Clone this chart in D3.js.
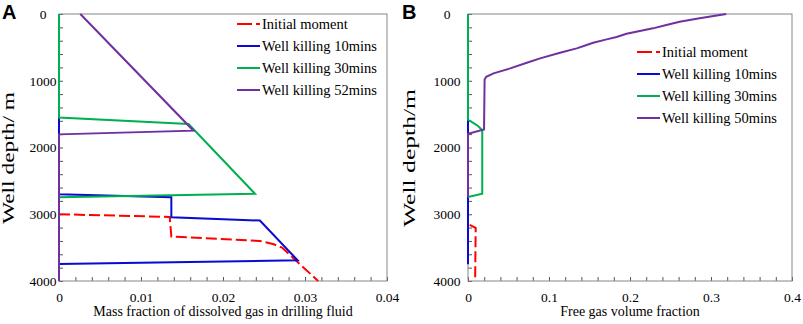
<!DOCTYPE html>
<html lang="en">
<head>
<meta charset="UTF-8">
<title>Dissolved and free gas along well depth</title>
<script src="https://d3js.org/d3.v7.min.js"></script>
<style>
    body{ margin:0; background:#fff; }
    svg{ display:block; }
    .axis path{ display:none; }
    .axis line{ stroke:#555; }
</style>
</head>
<body>
<script>
    // tick labels
    const depthTicks = [0, 1000, 2000, 3000, 4000]
    const massTicks = [0, 0.01, 0.02, 0.03, 0.04]
    const freeTicks = [0, 0.1, 0.2, 0.3, 0.4]
    const seriesNamesA = ["Initial moment", "Well killing 10mins", "Well killing 30mins", "Well killing 52mins"]
    const seriesNamesB = ["Initial moment", "Well killing 10mins", "Well killing 30mins", "Well killing 50mins"]

    // panel A: [mass fraction, depth m]
    const aInitial = [[0,3000],[0.0135,3040],[0.0137,3335],[0.0245,3400],[0.0262,3450],[0.0272,3500],[0.0316,4000]]
    const a10 = [[0,0],[0,2700],[0.0137,2745],[0.0137,3045],[0.0245,3095],[0.0291,3690],[0,3745],[0,4000]]
    const a30 = [[0,0],[0,1550],[0.0158,1648],[0.0239,2692],[0,2745],[0,4000]]
    const a52 = [[0.0026,0],[0.0164,1748],[0,1803],[0,4000]]

    // panel B: [free gas fraction, depth m]
    const bInitial = [[0.002,3160],[0.0095,3205],[0.0088,4000]]
    const b10 = [[0,0],[0,3750]]
    const b30 = [[0,0],[0,1585],[0.0065,1631],[0.0127,1681],[0.0176,1741],[0.0176,2692],[0,2742]]
    const b50 = [[0.3188,0],[0.2859,65],[0.2613,115],[0.2449,165],[0.2284,215],[0.2121,255],[0.1957,295],
                 [0.1834,345],[0.1711,380],[0.1546,430],[0.1465,465],[0.1342,515],[0.1136,580],[0.0890,665],
                 [0.0726,730],[0.0521,815],[0.0315,890],[0.0225,940],[0.0205,980],[0.0198,1731],[0,1795],[0,2742]]

    const colors = ["#ff0000", "#0a0ad2", "#00b050", "#7030a0"]
    const serif = "Liberation Serif"

    const width = 803, height = 324
    const svg = d3.select("body").append("svg")
        .attr("width", width).attr("height", height)

    function panel(opt) {
        const x = d3.scaleLinear().domain([0, opt.xMax]).range([opt.left, opt.right])
        const y = d3.scaleLinear().domain([0, 4000]).range([14, 281])
        const g = svg.append("g")

        // minor ticks inside the frame
        g.append("g").attr("class", "axis")
            .attr("transform", `translate(${opt.left},0)`)
            .call(d3.axisLeft(y).tickValues(d3.range(0, 4001, 200)).tickSize(-4).tickFormat(""))
        g.append("g").attr("class", "axis")
            .attr("transform", "translate(0,281)")
            .call(d3.axisBottom(x).tickValues(d3.range(0, opt.xMax + 1e-9, opt.xMax / 20)).tickSize(-4).tickFormat(""))

        // tick labels
        const yl = g.append("g").attr("class", "axis")
            .attr("transform", `translate(${opt.left},0)`)
            .call(d3.axisLeft(y).tickValues(depthTicks).tickSize(0).tickFormat(d3.format("d")))
        yl.selectAll("text").attr("text-anchor", "middle").attr("x", opt.yLabX).attr("font-size", 13.5)
        const xl = g.append("g").attr("class", "axis")
            .attr("transform", "translate(0,281)")
            .call(d3.axisBottom(x).tickValues(opt.ticks).tickSize(0).tickPadding(11).tickFormat(d => d === 0 ? "0" : d))
        xl.selectAll("text").attr("font-size", 13.5)

        // frame
        g.append("rect").attr("x", opt.left).attr("y", 14)
            .attr("width", opt.right - opt.left).attr("height", 267)
            .attr("fill", "none").attr("stroke", "#868686")

        const line = d3.line().x(d => x(d[0])).y(d => y(d[1]))
        opt.series.forEach((s, i) => {
            g.append("path").datum(s)
                .attr("d", line)
                .attr("fill", "none")
                .attr("stroke", colors[i])
                .attr("stroke-width", 2)
                .attr("stroke-dasharray", i === 0 ? "11,4" : null)
        })

        // legend
        opt.names.forEach((n, i) => {
            const ly = opt.legY + i * 22
            g.append("line").attr("x1", opt.legX).attr("x2", opt.legX + 23)
                .attr("y1", ly).attr("y2", ly)
                .attr("stroke", colors[i]).attr("stroke-width", 2)
                .attr("stroke-dasharray", i === 0 ? "15,4" : null)
            g.append("text").attr("x", opt.legX + 25).attr("y", ly + 5)
                .attr("font-size", 14.5).text(n)
        })

        // titles
        g.append("text").attr("x", (opt.left + opt.right) / 2).attr("y", 316)
            .attr("text-anchor", "middle").attr("font-size", 14).text(opt.xTitle)
        g.append("text")
            .attr("transform", `translate(${opt.yTitleX},158) rotate(-90)`)
            .attr("text-anchor", "middle").attr("font-size", 16)
            .attr("textLength", opt.yLen).attr("lengthAdjust", "spacingAndGlyphs")
            .text(opt.yTitle)
        g.append("text").attr("class", "letter")
            .attr("x", opt.letterX).attr("y", 19).text(opt.letter)
    }

    panel({
        left: 59, right: 387, xMax: 0.04, ticks: massTicks,
        series: [aInitial, a10, a30, a52], names: seriesNamesA,
        legX: 237, legY: 24, yLabX: -16, yTitleX: 14, letterX: 2,
        xTitle: "Mass fraction of dissolved gas in drilling fluid",
        yTitle: "Well depth/ m", yLen: 132, letter: "A"
    })
    panel({
        left: 468, right: 792, xMax: 0.4, ticks: freeTicks,
        series: [bInitial, b10, b30, b50], names: seriesNamesB,
        legX: 637, legY: 52, yLabX: -21, yTitleX: 415, letterX: 402,
        xTitle: "Free gas volume fraction",
        yTitle: "Well depth/m", yLen: 138, letter: "B"
    })

    // all text in Times-like serif, letters in bold sans
    svg.selectAll("text").attr("font-family", serif).attr("fill", "#000")
    svg.selectAll("text.letter")
        .attr("font-family", "Liberation Sans")
        .attr("font-weight", "bold").attr("font-size", 20)
</script>
</body>
</html>
